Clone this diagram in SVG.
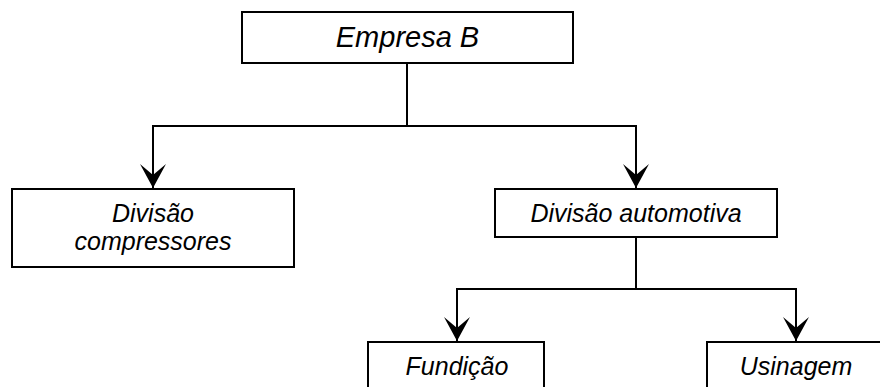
<svg xmlns="http://www.w3.org/2000/svg" width="880" height="387" viewBox="0 0 880 387">
<defs>
<style>
.box{fill:#fff;stroke:#000;stroke-width:2}
.t{font-family:"Liberation Sans",Arial,sans-serif;font-style:italic;font-size:25px;fill:#000;text-anchor:middle}
.big{font-size:29px}
.c{fill:none;stroke:#000;stroke-width:2}
</style>
<marker id="ah" viewBox="0 0 26 26" refX="24" refY="13" markerWidth="26" markerHeight="26" markerUnits="userSpaceOnUse" orient="auto">
<path d="M0,0 L24,13 L0,26 L11,13 Z" fill="#000"/>
</marker>
</defs>
<rect width="880" height="387" fill="#fff"/>
<g id="connectors">
<path class="c" d="M407,63 V126 H153 V188" marker-end="url(#ah)"/>
<path class="c" d="M407,126 H636 V188" marker-end="url(#ah)"/>
<path class="c" d="M636,237 V289 H457 V341" marker-end="url(#ah)"/>
<path class="c" d="M636,289 H796 V341" marker-end="url(#ah)"/>
</g>
<g id="empresa-b">
<rect class="box" x="242" y="12" width="331" height="51"/>
<text class="t big" x="407.5" y="47">Empresa B</text>
</g>
<g id="divisao-compressores">
<rect class="box" x="12" y="189" width="282" height="78"/>
<text class="t" x="153" y="222">Divisão</text>
<text class="t" x="153" y="250">compressores</text>
</g>
<g id="divisao-automotiva">
<rect class="box" x="495" y="189" width="282" height="48"/>
<text class="t" x="636" y="222">Divisão automotiva</text>
</g>
<g id="fundicao">
<rect class="box" x="368" y="342" width="176" height="60"/>
<text class="t" x="457" y="375">Fundição</text>
</g>
<g id="usinagem">
<rect class="box" x="707" y="342" width="178" height="60"/>
<text class="t" x="796" y="375">Usinagem</text>
</g>
</svg>
